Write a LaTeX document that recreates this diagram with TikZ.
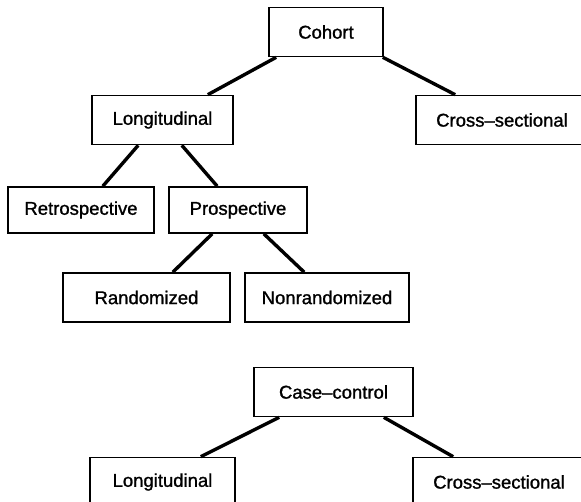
\documentclass[tikz,border=0pt]{standalone}
\usepackage{fontspec}
\setmainfont{Liberation Sans}
\newfontfamily\boxfont{Liberation Sans}[Ligatures=TeX,FakeBold=1.2]
\usetikzlibrary{positioning}
\tikzset{
  kindbox/.style={
    rectangle,
    draw=black, line width=1.6pt,
    minimum height=49pt,
    inner sep=0pt,
    text centered,
    font=\boxfont\fontsize{18.5}{20}\selectfont},
  link/.style={draw, line width=3.4pt},
}

\begin{document}
\begin{tikzpicture}[x=1pt,y=-1pt]
  \useasboundingbox (0,0) rectangle (581,502);
  \clip (0,0) rectangle (581,502);
  % cohort tree
  \node[kindbox, minimum width=114pt] (cohort) at (326,32) {Cohort};
  \node[kindbox, minimum width=141pt] (long) at (162.5,120) {Longitudinal};
  \node[kindbox, minimum width=172pt] (cross) at (502,120) {Cross--sectional};
  \node[kindbox, minimum width=146pt, minimum height=46pt] (retro) at (81,210) {Retrospective};
  \node[kindbox, minimum width=138pt, minimum height=46pt] (prosp) at (238,210) {Prospective};
  \node[kindbox, minimum width=167pt] (rand) at (146.5,297.5) {Randomized};
  \node[kindbox, minimum width=164pt] (nonrand) at (327,297.5) {Nonrandomized};
  % case-control tree
  \node[kindbox, minimum width=159pt] (cc) at (333.5,392) {Case--control};
  \node[kindbox, minimum width=145pt] (cclong) at (162.5,482) {Longitudinal};
  \node[kindbox, minimum width=172pt] (cccross) at (499,482) {Cross--sectional};
  %% links
  \path[link] ([xshift=8pt]cohort.south west) -- ([xshift=-26pt]long.north east);
  \path[link] ([xshift=-1pt]cohort.south east) -- ([xshift=40pt]cross.north west);
  \path[link] ([xshift=47pt]long.south west) -- ([xshift=-52pt]retro.north east);
  \path[link] ([xshift=-52pt]long.south east) -- ([xshift=49pt]prosp.north west);
  \path[link] ([xshift=44pt]prosp.south west) -- ([xshift=-58pt]rand.north east);
  \path[link] ([xshift=-44pt]prosp.south east) -- ([xshift=60pt]nonrand.north west);
  \path[link] ([xshift=26pt]cc.south west) -- ([xshift=-35pt]cclong.north east);
  \path[link] ([xshift=-30pt]cc.south east) -- ([xshift=41pt]cccross.north west);
\end{tikzpicture}
\end{document}
